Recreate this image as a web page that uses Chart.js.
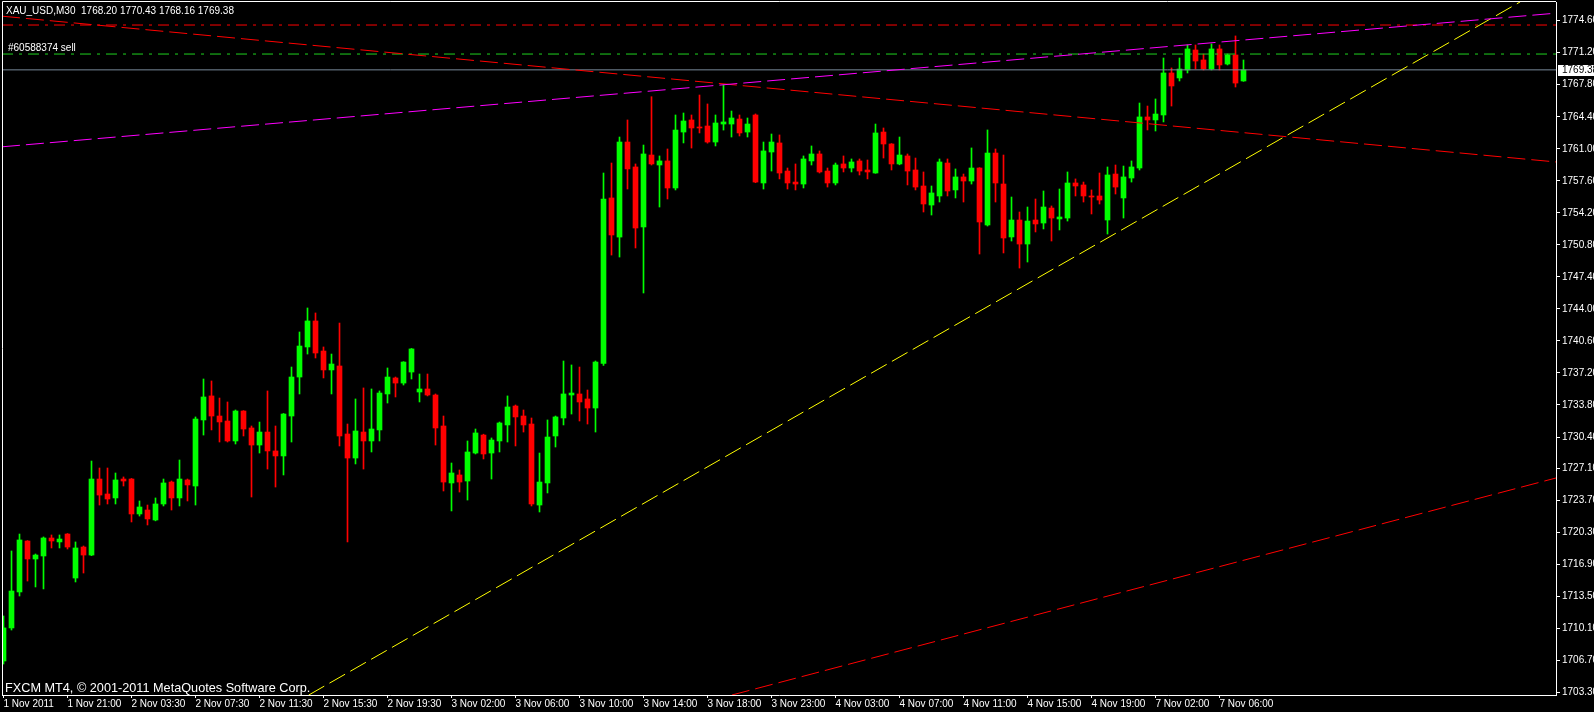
<!DOCTYPE html>
<html>
<head>
<meta charset="utf-8">
<title>XAU_USD,M30</title>
<script src="https://cdn.jsdelivr.net/npm/chart.js"></script>
<style>
  html, body { margin: 0; padding: 0; background: #000; overflow: hidden; }
  canvas { display: block; }
</style>
</head>
<body>
<canvas id="chart" width="1594" height="712"></canvas>
<script>
const symbol = "XAU_USD,M30";

// M30 bars
const opens = [
  1706.62, 1710.13, 1713.95, 1719.36, 1717.45, 1717.77, 1719.68, 1719.26, 1720.10, 1715.43,
  1718.72, 1717.87, 1725.94, 1724.35, 1723.93, 1725.94, 1725.94, 1722.23, 1722.65, 1721.59,
  1723.29, 1725.62, 1723.93, 1725.84, 1725.20, 1732.21, 1734.76, 1732.63, 1732.10, 1729.98,
  1733.16, 1731.36, 1729.55, 1730.93, 1728.92, 1728.39, 1732.63, 1736.77, 1739.96, 1742.72,
  1739.53, 1737.52, 1737.94, 1730.72, 1728.17, 1730.93, 1729.98, 1731.15, 1734.97, 1736.67,
  1736.13, 1737.30, 1735.18, 1735.50, 1734.86, 1731.57, 1725.52, 1726.37, 1725.73, 1728.70,
  1730.61, 1728.70, 1729.98, 1731.68, 1733.69, 1732.63, 1731.78, 1723.18, 1725.52, 1730.51,
  1732.42, 1734.86, 1734.97, 1734.44, 1733.48, 1738.22, 1755.78, 1751.63, 1761.72, 1759.07,
  1752.70, 1760.34, 1759.28, 1759.71, 1756.84, 1762.78, 1764.06, 1763.31, 1763.42, 1761.72,
  1763.63, 1763.63, 1764.16, 1762.78, 1764.59, 1757.37, 1760.66, 1761.62, 1758.64, 1757.47,
  1757.26, 1759.71, 1760.45, 1758.64, 1757.37, 1759.39, 1758.96, 1759.71, 1758.75, 1758.43,
  1762.78, 1761.51, 1759.39, 1760.24, 1758.75, 1757.05, 1755.03, 1755.99, 1759.49, 1756.63,
  1758.01, 1757.58, 1758.96, 1752.91, 1760.55, 1757.26, 1751.64, 1753.44, 1750.89, 1753.44,
  1753.12, 1754.71, 1753.55, 1753.65, 1757.37, 1757.16, 1755.99, 1755.99, 1753.44, 1758.32,
  1755.78, 1757.90, 1758.96, 1764.38, 1764.06, 1764.59, 1769.05, 1768.52, 1769.37, 1771.49,
  1770.43, 1769.47, 1771.60, 1770.00, 1770.96, 1768.20
];
const highs = [
  1711.40, 1718.30, 1720.10, 1719.40, 1717.98, 1719.79, 1720.00, 1720.00, 1720.15, 1719.26,
  1718.83, 1727.85, 1727.11, 1727.11, 1726.58, 1726.16, 1726.00, 1723.61, 1723.18, 1723.93,
  1725.94, 1725.73, 1727.96, 1725.94, 1732.53, 1736.56, 1736.35, 1734.54, 1734.12, 1733.27,
  1733.20, 1731.57, 1731.99, 1735.29, 1731.57, 1732.90, 1737.83, 1741.55, 1744.10, 1743.57,
  1739.96, 1739.21, 1742.50, 1731.78, 1734.44, 1735.61, 1735.50, 1735.29, 1737.73, 1736.77,
  1738.40, 1739.80, 1737.09, 1737.09, 1734.97, 1732.63, 1727.64, 1726.90, 1729.98, 1731.25,
  1730.70, 1730.30, 1731.99, 1734.76, 1733.80, 1733.27, 1732.42, 1728.70, 1732.21, 1732.63,
  1738.47, 1738.05, 1737.83, 1735.39, 1738.47, 1758.43, 1759.49, 1762.25, 1764.06, 1759.39,
  1761.40, 1766.53, 1760.24, 1760.98, 1764.59, 1764.80, 1764.59, 1766.71, 1765.76, 1764.59,
  1767.77, 1765.01, 1764.59, 1764.27, 1764.70, 1761.72, 1762.57, 1762.47, 1758.96, 1759.39,
  1760.24, 1761.30, 1760.77, 1758.96, 1759.49, 1760.24, 1759.92, 1759.92, 1759.81, 1763.63,
  1763.21, 1761.55, 1762.25, 1760.45, 1760.02, 1758.54, 1757.05, 1759.92, 1759.92, 1758.86,
  1758.32, 1761.09, 1759.00, 1763.00, 1760.98, 1760.34, 1755.88, 1754.29, 1754.82, 1755.67,
  1756.52, 1754.93, 1756.73, 1758.54, 1757.80, 1757.47, 1756.63, 1758.43, 1759.07, 1759.28,
  1759.17, 1759.71, 1765.86, 1765.54, 1766.29, 1770.64, 1769.58, 1770.64, 1772.02, 1772.02,
  1771.06, 1772.13, 1772.02, 1771.06, 1772.98, 1770.43
];
const lows = [
  1706.30, 1709.91, 1713.52, 1715.11, 1714.48, 1714.27, 1718.62, 1718.62, 1718.51, 1715.01,
  1715.96, 1717.80, 1723.18, 1723.29, 1723.29, 1725.20, 1721.38, 1722.01, 1721.06, 1721.50,
  1723.08, 1722.65, 1723.08, 1723.61, 1723.18, 1730.61, 1731.15, 1729.87, 1729.87, 1729.66,
  1730.51, 1724.03, 1728.70, 1727.00, 1725.09, 1726.37, 1729.87, 1734.97, 1739.21, 1738.79,
  1736.67, 1734.97, 1729.45, 1719.26, 1727.54, 1727.00, 1728.81, 1729.98, 1734.01, 1734.65,
  1735.92, 1736.56, 1734.12, 1734.76, 1729.55, 1724.67, 1722.55, 1724.56, 1723.71, 1728.60,
  1728.07, 1725.94, 1728.81, 1729.87, 1729.45, 1730.93, 1723.08, 1722.44, 1724.46, 1729.34,
  1731.68, 1732.84, 1732.10, 1731.78, 1730.93, 1738.00, 1749.72, 1749.51, 1756.73, 1750.47,
  1745.69, 1759.28, 1754.82, 1755.67, 1756.63, 1761.62, 1761.08, 1762.68, 1761.60, 1761.30,
  1762.99, 1762.25, 1762.36, 1762.25, 1757.40, 1756.73, 1758.64, 1757.80, 1756.73, 1756.63,
  1756.84, 1759.28, 1758.43, 1756.94, 1757.16, 1758.54, 1758.54, 1758.22, 1757.80, 1758.40,
  1760.02, 1758.75, 1759.30, 1757.16, 1756.63, 1754.29, 1753.97, 1755.35, 1755.99, 1755.78,
  1755.35, 1757.26, 1749.83, 1752.80, 1755.35, 1749.94, 1751.21, 1748.34, 1748.98, 1752.17,
  1752.49, 1751.21, 1752.38, 1753.33, 1755.99, 1755.35, 1754.08, 1755.14, 1751.95, 1756.20,
  1753.65, 1757.47, 1758.75, 1763.00, 1762.89, 1763.85, 1765.54, 1768.20, 1769.05, 1769.47,
  1769.37, 1769.37, 1769.37, 1769.90, 1767.56, 1768.16
];
const closes = [
  1710.13, 1714.05, 1719.47, 1717.45, 1717.87, 1719.68, 1719.36, 1719.57, 1718.72, 1718.62,
  1717.87, 1725.94, 1724.24, 1723.82, 1725.84, 1725.73, 1722.23, 1722.97, 1721.70, 1723.29,
  1725.52, 1723.93, 1725.94, 1725.31, 1732.31, 1734.65, 1732.63, 1732.00, 1729.98, 1733.16,
  1731.25, 1729.55, 1730.93, 1728.92, 1728.39, 1732.84, 1736.77, 1740.06, 1742.72, 1739.32,
  1737.52, 1738.15, 1730.51, 1728.17, 1731.04, 1729.98, 1731.25, 1735.07, 1736.77, 1736.13,
  1738.36, 1739.75, 1735.50, 1734.86, 1731.36, 1725.62, 1726.58, 1725.62, 1728.81, 1730.83,
  1728.60, 1730.08, 1731.89, 1733.59, 1732.53, 1731.68, 1723.29, 1725.62, 1730.40, 1732.53,
  1734.97, 1735.07, 1734.12, 1733.48, 1738.36, 1755.67, 1751.85, 1761.72, 1758.86, 1752.59,
  1760.45, 1759.39, 1759.71, 1756.84, 1762.99, 1763.95, 1763.21, 1763.21, 1761.72, 1763.74,
  1763.85, 1764.27, 1762.68, 1763.63, 1757.47, 1760.77, 1761.72, 1758.43, 1757.37, 1757.26,
  1759.92, 1760.45, 1758.54, 1757.37, 1759.28, 1758.96, 1759.60, 1758.64, 1758.54, 1762.68,
  1761.51, 1759.39, 1760.34, 1758.64, 1756.94, 1755.14, 1756.31, 1759.60, 1756.52, 1758.01,
  1757.58, 1758.96, 1753.23, 1760.55, 1757.37, 1751.53, 1753.44, 1750.89, 1753.33, 1753.02,
  1754.82, 1753.65, 1753.76, 1757.37, 1757.05, 1755.99, 1755.88, 1755.56, 1758.22, 1756.94,
  1758.01, 1759.07, 1764.38, 1764.06, 1764.69, 1769.05, 1767.67, 1769.47, 1771.60, 1770.32,
  1769.47, 1771.60, 1769.90, 1770.96, 1767.98, 1769.38
];

// time axis labels sit on every 8th bar
const xTickBars = [0, 8, 16, 24, 32, 40, 48, 56, 64, 72, 80, 88, 96, 104, 112, 120, 128, 136, 144, 152];
const xTickLabels = [
  "1 Nov 2011", "1 Nov 21:00", "2 Nov 03:30", "2 Nov 07:30", "2 Nov 11:30", "2 Nov 15:30",
  "2 Nov 19:30", "3 Nov 02:00", "3 Nov 06:00", "3 Nov 10:00", "3 Nov 14:00", "3 Nov 18:00",
  "3 Nov 23:00", "4 Nov 03:00", "4 Nov 07:00", "4 Nov 11:00", "4 Nov 15:00", "4 Nov 19:00",
  "7 Nov 02:00", "7 Nov 06:00"
];
const yTickLabels = [
  "1774.60", "1771.20", "1767.80", "1764.40", "1761.00", "1757.60", "1754.20", "1750.80",
  "1747.40", "1744.00", "1740.60", "1737.20", "1733.80", "1730.40", "1727.10", "1723.70",
  "1720.30", "1716.90", "1713.50", "1710.10", "1706.70", "1703.30"
];

const xMin = -0.1875, xMax = 194.0625;
const yMin = 1703.01, yMax = 1776.585;

// drawn objects: [bar index, price]
const magentaLine = [[xMin, 1761.21], [xMax, 1775.40]];
const redFallLine = [[xMin, 1775.08], [xMax, 1759.60]];
const yellowLine = [[38.14, 1703.0], [189.59, 1776.6]];
const redLowLine = [[91.06, 1703.01], [xMax, 1726.05]];
const stopLevel = 1774.14;
const orderLevel = 1771.06;
const orderLabel = "#60588374 sell";
const bidLevel = closes[closes.length - 1];

const BULL = '#00ff00', BEAR = '#ff0000';
const candleColors = opens.map((o, i) => closes[i] >= o ? BULL : BEAR);

function lineSet(points, color, dash) {
    return {
        type: 'line',
        data: points.map(p => ({ x: p[0], y: p[1] })),
        borderColor: color,
        borderWidth: 1,
        borderDash: dash,
        pointRadius: 0,
        fill: false,
        tension: 0,
        order: 0
    };
}

const FONT = 'Liberation Sans';

const overlay = {
    id: 'overlay',
    afterDraw(chart) {
        const ctx = chart.ctx;
        const area = chart.chartArea;
        const ys = chart.scales.y;
        ctx.save();
        // frame, left and top
        ctx.strokeStyle = '#fff';
        ctx.lineWidth = 1;
        ctx.beginPath();
        ctx.moveTo(area.left + 0.5, area.bottom);
        ctx.lineTo(area.left + 0.5, area.top - 0.5);
        ctx.lineTo(area.right, area.top - 0.5);
        ctx.stroke();

        ctx.fillStyle = '#fff';
        ctx.textBaseline = 'middle';
        ctx.font = '10px "' + FONT + '"';
        let last = opens.length - 1;
        let head = symbol + '  ' + [opens[last], highs[last], lows[last], closes[last]].map(v => v.toFixed(2)).join(' ');
        ctx.fillText(head, 6, 11);
        ctx.fillText(orderLabel, 8, ys.getPixelForValue(orderLevel) - 6);

        ctx.font = '12.7px "' + FONT + '"';
        ctx.textBaseline = 'alphabetic';
        ctx.fillText('FXCM MT4, \u00a9 2001-2011 MetaQuotes Software Corp.', 5, area.bottom - 3);

        // bid price box on the axis
        let by = Math.round(ys.getPixelForValue(bidLevel));
        ctx.fillStyle = '#fff';
        ctx.fillRect(area.right + 2, by - 5, 40, 11);
        ctx.fillStyle = '#000';
        ctx.font = '10px "' + FONT + '"';
        ctx.textBaseline = 'middle';
        ctx.fillText(bidLevel.toFixed(2), area.right + 6, by + 0.5);
        ctx.restore();
    }
};

const ctx = document.getElementById('chart').getContext('2d');
new Chart(ctx, {
    type: 'bar',
    data: {
        datasets: [
            lineSet(magentaLine, '#ff00ff', [18, 6]),
            lineSet(redFallLine, '#ff0000', [18, 6]),
            lineSet(yellowLine, '#ffff00', [18, 6]),
            lineSet(redLowLine, '#ff0000', [18, 6]),
            lineSet([[xMin, stopLevel], [xMax, stopLevel]], '#ff0000', [11, 6, 3, 6]),
            lineSet([[xMin, orderLevel], [xMax, orderLevel]], '#1ed21e', [11, 6, 3, 6]),
            lineSet([[xMin, bidLevel], [xMax, bidLevel]], '#778899', []),
            {
                // candle bodies
                data: opens.map((o, i) => ({ x: i, y: [o, closes[i]] })),
                backgroundColor: candleColors,
                borderWidth: 0,
                barThickness: 5,
                minBarLength: 1,
                grouped: false,
                order: 1
            },
            {
                // wicks
                data: lows.map((l, i) => ({ x: i, y: [l, highs[i]] })),
                backgroundColor: candleColors,
                borderWidth: 0,
                barThickness: 1,
                grouped: false,
                order: 2
            }
        ]
    },
    options: {
        responsive: false,
        animation: false,
        devicePixelRatio: 1,
        layout: { autoPadding: false, padding: { left: 2, top: 2, right: 0, bottom: 0 } },
        plugins: {
            legend: { display: false },
            tooltip: { enabled: false }
        },
        scales: {
            x: {
                type: 'linear',
                min: xMin,
                max: xMax,
                offset: false,
                grid: { drawOnChartArea: false, drawTicks: true, tickLength: 3, color: '#fff', offset: false },
                border: { color: '#fff' },
                ticks: {
                    color: '#fff',
                    font: { family: FONT, size: 10 },
                    padding: 0,
                    align: 'start',
                    maxRotation: 0,
                    autoSkip: false,
                    callback: (v, i) => xTickLabels[i]
                },
                afterBuildTicks: s => { s.ticks = xTickBars.map(v => ({ value: v })); },
                afterFit: s => { s.height = 17; s.paddingLeft = 0; s.paddingRight = 0; }
            },
            y: {
                position: 'right',
                min: yMin,
                max: yMax,
                grid: { drawOnChartArea: false, drawTicks: true, tickLength: 4, color: '#fff' },
                border: { color: '#fff' },
                ticks: {
                    color: '#fff',
                    font: { family: FONT, size: 10 },
                    padding: 2,
                    autoSkip: false,
                    callback: (v, i) => yTickLabels[i]
                },
                afterBuildTicks: s => { s.ticks = yTickLabels.map(t => ({ value: parseFloat(t) })); },
                afterFit: s => { s.width = 38; s.paddingTop = 0; s.paddingBottom = 0; }
            }
        }
    },
    plugins: [overlay]
});
</script>
</body>
</html>
